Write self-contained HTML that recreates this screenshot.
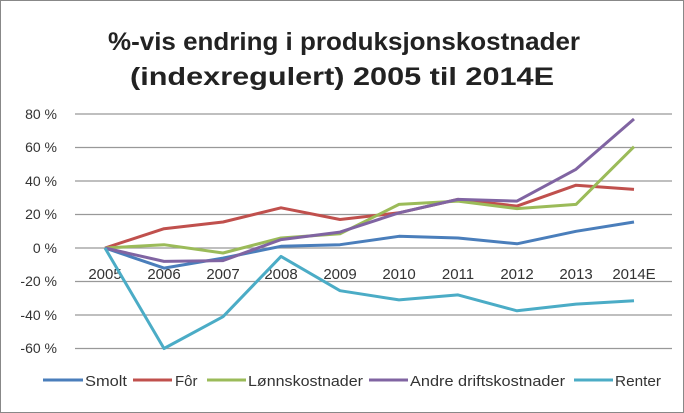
<!DOCTYPE html>
<html><head><meta charset="utf-8"><style>
body{margin:0;background:#fff}
svg{display:block;font-family:"Liberation Sans",sans-serif}
</style></head><body>
<svg width="684" height="413" viewBox="0 0 684 413">
<rect x="0.5" y="0.5" width="683" height="412" fill="#fff" stroke="#888"/>
<text x="108" y="50" font-size="25" font-weight="bold" fill="#222" textLength="472" lengthAdjust="spacingAndGlyphs">%-vis endring i produksjonskostnader</text>
<text x="130" y="85" font-size="25" font-weight="bold" fill="#222" textLength="424" lengthAdjust="spacingAndGlyphs">(indexregulert) 2005 til 2014E</text>
<g stroke="#999" stroke-width="1.2">
<line x1="75" x2="672" y1="114" y2="114"/><line x1="75" x2="672" y1="147.5" y2="147.5"/>
<line x1="75" x2="672" y1="181" y2="181"/><line x1="75" x2="672" y1="214.5" y2="214.5"/>
<line x1="75" x2="672" y1="248" y2="248"/><line x1="75" x2="672" y1="281.5" y2="281.5"/>
<line x1="75" x2="672" y1="315" y2="315"/><line x1="75" x2="672" y1="348.5" y2="348.5"/>
</g>
<g font-size="14" fill="#333" text-anchor="end">
<text x="57" y="119">80 %</text><text x="57" y="152">60 %</text><text x="57" y="186">40 %</text><text x="57" y="219">20 %</text>
<text x="57" y="253">0 %</text><text x="57" y="286">-20 %</text><text x="57" y="320">-40 %</text><text x="57" y="353">-60 %</text>
</g>
<g font-size="15" fill="#333" text-anchor="middle">
<text x="105" y="279">2005</text><text x="164" y="279">2006</text><text x="223" y="279">2007</text><text x="281" y="279">2008</text><text x="340" y="279">2009</text><text x="399" y="279">2010</text><text x="458" y="279">2011</text><text x="517" y="279">2012</text><text x="576" y="279">2013</text><text x="634" y="279">2014E</text>
</g>
<g fill="none" stroke-width="3" stroke-linejoin="round">
<polyline stroke="#4a7ebb" points="105,248 164,268.1 223,258.1 281,246.3 340,244.7 399,236.3 458,238 517,243.8 576,231.3 634,222"/>
<polyline stroke="#c0504d" points="105,248 164,228.7 223,222 281,207.8 340,219.5 399,212.8 458,199.4 517,206.1 576,185.2 634,189.4"/>
<polyline stroke="#9bbb59" points="105,248 164,244.7 223,253 281,238 340,233.8 399,204.4 458,201.1 517,208.6 576,204.4 634,146.7"/>
<polyline stroke="#8064a2" points="105,248 164,261.4 223,260.6 281,239.6 340,232.1 399,212.8 458,199.4 517,201.1 576,169.3 634,119"/>
<polyline stroke="#4bacc6" points="105,248 164,348.5 223,316.7 281,256.4 340,290.7 399,299.9 458,294.9 517,310.8 576,304.1 634,300.8"/>
</g>
<g stroke-width="3">
<line x1="43" x2="83" y1="380" y2="380" stroke="#4a7ebb"/>
<line x1="133" x2="172" y1="380" y2="380" stroke="#c0504d"/>
<line x1="207" x2="246" y1="380" y2="380" stroke="#9bbb59"/>
<line x1="369" x2="408" y1="380" y2="380" stroke="#8064a2"/>
<line x1="574" x2="613" y1="380" y2="380" stroke="#4bacc6"/>
</g>
<g font-size="15" fill="#333">
<text x="85" y="386" textLength="42" lengthAdjust="spacingAndGlyphs">Smolt</text><text x="175" y="386">Fôr</text><text x="248" y="386" textLength="115" lengthAdjust="spacingAndGlyphs">Lønnskostnader</text><text x="410" y="386" textLength="155" lengthAdjust="spacingAndGlyphs">Andre driftskostnader</text><text x="615" y="386" textLength="46" lengthAdjust="spacingAndGlyphs">Renter</text>
</g>
</svg>
</body></html>
